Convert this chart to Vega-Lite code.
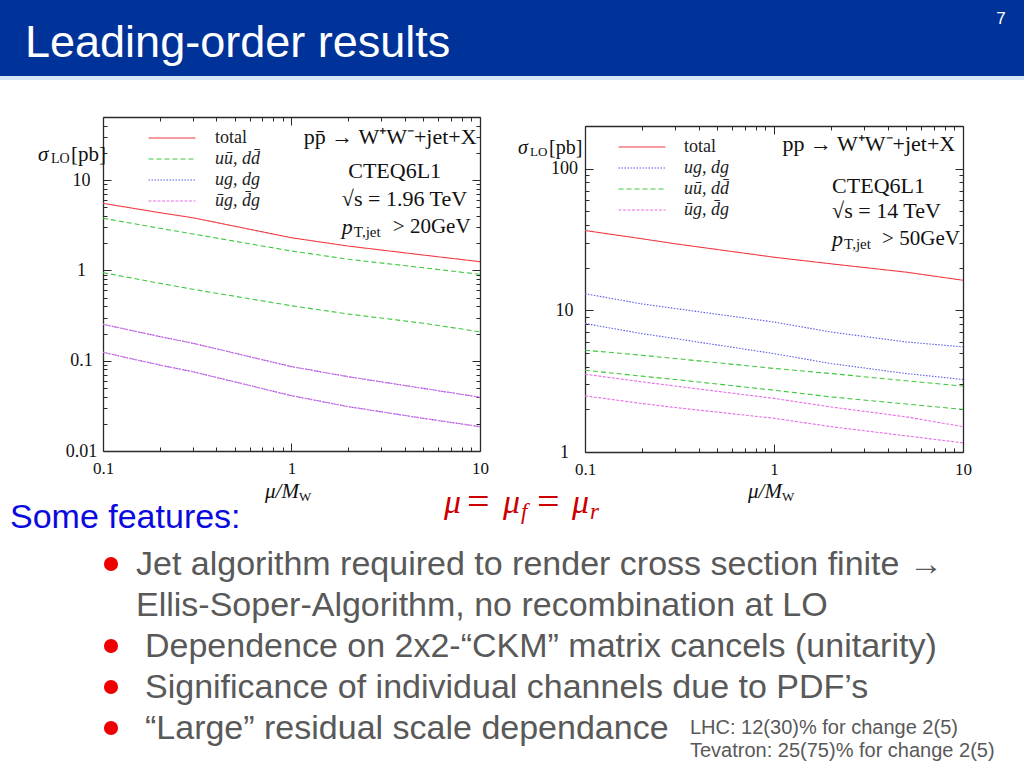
{
  "$schema": "https://vega.github.io/schema/vega-lite/v6.json",
  "width": 1024,
  "height": 768,
  "autosize": {"type": "none"},
  "padding": 0,
  "background": "white",
  "config": {"view": {"stroke": null}},
  "datasets": {
    "tev": [
      {"mu":0.1,"sigma":5.53,"ch":"total","line":"total"},{"mu":0.2,"sigma":4.36,"ch":"total","line":"total"},{"mu":0.3,"sigma":3.83,"ch":"total","line":"total"},{"mu":1,"sigma":2.30,"ch":"total","line":"total"},{"mu":2,"sigma":1.86,"ch":"total","line":"total"},{"mu":5,"sigma":1.48,"ch":"total","line":"total"},{"mu":10,"sigma":1.25,"ch":"total","line":"total"},
      {"mu":0.1,"sigma":3.78,"ch":"u\u016b, dd\u0304","line":"uu"},{"mu":0.2,"sigma":2.93,"ch":"u\u016b, dd\u0304","line":"uu"},{"mu":0.3,"sigma":2.53,"ch":"u\u016b, dd\u0304","line":"uu"},{"mu":1,"sigma":1.64,"ch":"u\u016b, dd\u0304","line":"uu"},{"mu":2,"sigma":1.33,"ch":"u\u016b, dd\u0304","line":"uu"},{"mu":5,"sigma":1.07,"ch":"u\u016b, dd\u0304","line":"uu"},{"mu":10,"sigma":0.906,"ch":"u\u016b, dd\u0304","line":"uu"},
      {"mu":0.1,"sigma":0.944,"ch":"u\u016b, dd\u0304","line":"dd"},{"mu":0.2,"sigma":0.72,"ch":"u\u016b, dd\u0304","line":"dd"},{"mu":0.3,"sigma":0.618,"ch":"u\u016b, dd\u0304","line":"dd"},{"mu":1,"sigma":0.406,"ch":"u\u016b, dd\u0304","line":"dd"},{"mu":2,"sigma":0.329,"ch":"u\u016b, dd\u0304","line":"dd"},{"mu":5,"sigma":0.26,"ch":"u\u016b, dd\u0304","line":"dd"},{"mu":10,"sigma":0.209,"ch":"u\u016b, dd\u0304","line":"dd"},
      {"mu":0.1,"sigma":0.253,"ch":"ug, dg","line":"ug"},{"mu":0.2,"sigma":0.185,"ch":"ug, dg","line":"ug"},{"mu":0.3,"sigma":0.156,"ch":"ug, dg","line":"ug"},{"mu":1,"sigma":0.086,"ch":"ug, dg","line":"ug"},{"mu":2,"sigma":0.0665,"ch":"ug, dg","line":"ug"},{"mu":5,"sigma":0.0494,"ch":"ug, dg","line":"ug"},{"mu":10,"sigma":0.0394,"ch":"ug, dg","line":"ug"},
      {"mu":0.1,"sigma":0.124,"ch":"ug, dg","line":"dg"},{"mu":0.2,"sigma":0.0895,"ch":"ug, dg","line":"dg"},{"mu":0.3,"sigma":0.0755,"ch":"ug, dg","line":"dg"},{"mu":1,"sigma":0.041,"ch":"ug, dg","line":"dg"},{"mu":2,"sigma":0.031,"ch":"ug, dg","line":"dg"},{"mu":5,"sigma":0.023,"ch":"ug, dg","line":"dg"},{"mu":10,"sigma":0.0186,"ch":"ug, dg","line":"dg"},
      {"mu":0.1,"sigma":0.253,"ch":"\u016bg, d\u0304g","line":"ubg"},{"mu":0.2,"sigma":0.185,"ch":"\u016bg, d\u0304g","line":"ubg"},{"mu":0.3,"sigma":0.156,"ch":"\u016bg, d\u0304g","line":"ubg"},{"mu":1,"sigma":0.086,"ch":"\u016bg, d\u0304g","line":"ubg"},{"mu":2,"sigma":0.0665,"ch":"\u016bg, d\u0304g","line":"ubg"},{"mu":5,"sigma":0.0494,"ch":"\u016bg, d\u0304g","line":"ubg"},{"mu":10,"sigma":0.0394,"ch":"\u016bg, d\u0304g","line":"ubg"},
      {"mu":0.1,"sigma":0.124,"ch":"\u016bg, d\u0304g","line":"dbg"},{"mu":0.2,"sigma":0.0895,"ch":"\u016bg, d\u0304g","line":"dbg"},{"mu":0.3,"sigma":0.0755,"ch":"\u016bg, d\u0304g","line":"dbg"},{"mu":1,"sigma":0.041,"ch":"\u016bg, d\u0304g","line":"dbg"},{"mu":2,"sigma":0.031,"ch":"\u016bg, d\u0304g","line":"dbg"},{"mu":5,"sigma":0.023,"ch":"\u016bg, d\u0304g","line":"dbg"},{"mu":10,"sigma":0.0186,"ch":"\u016bg, d\u0304g","line":"dbg"}
    ],
    "lhc": [
      {"mu":0.1,"sigma":36.6,"ch":"total","line":"total"},{"mu":0.2,"sigma":32.0,"ch":"total","line":"total"},{"mu":0.3,"sigma":29.5,"ch":"total","line":"total"},{"mu":1,"sigma":23.7,"ch":"total","line":"total"},{"mu":2,"sigma":21.3,"ch":"total","line":"total"},{"mu":5,"sigma":18.6,"ch":"total","line":"total"},{"mu":10,"sigma":16.3,"ch":"total","line":"total"},
      {"mu":0.1,"sigma":13.1,"ch":"ug, dg","line":"ug"},{"mu":0.2,"sigma":11.1,"ch":"ug, dg","line":"ug"},{"mu":0.3,"sigma":10.3,"ch":"ug, dg","line":"ug"},{"mu":1,"sigma":8.27,"ch":"ug, dg","line":"ug"},{"mu":2,"sigma":7.03,"ch":"ug, dg","line":"ug"},{"mu":5,"sigma":5.98,"ch":"ug, dg","line":"ug"},{"mu":10,"sigma":5.52,"ch":"ug, dg","line":"ug"},
      {"mu":0.1,"sigma":8.06,"ch":"ug, dg","line":"dg"},{"mu":0.2,"sigma":6.85,"ch":"ug, dg","line":"dg"},{"mu":0.3,"sigma":6.32,"ch":"ug, dg","line":"dg"},{"mu":1,"sigma":4.95,"ch":"ug, dg","line":"dg"},{"mu":2,"sigma":4.21,"ch":"ug, dg","line":"dg"},{"mu":5,"sigma":3.58,"ch":"ug, dg","line":"dg"},{"mu":10,"sigma":3.25,"ch":"ug, dg","line":"dg"},
      {"mu":0.1,"sigma":5.23,"ch":"u\u016b, dd\u0304","line":"uu"},{"mu":0.2,"sigma":4.82,"ch":"u\u016b, dd\u0304","line":"uu"},{"mu":0.3,"sigma":4.57,"ch":"u\u016b, dd\u0304","line":"uu"},{"mu":1,"sigma":3.89,"ch":"u\u016b, dd\u0304","line":"uu"},{"mu":2,"sigma":3.58,"ch":"u\u016b, dd\u0304","line":"uu"},{"mu":5,"sigma":3.18,"ch":"u\u016b, dd\u0304","line":"uu"},{"mu":10,"sigma":2.92,"ch":"u\u016b, dd\u0304","line":"uu"},
      {"mu":0.1,"sigma":3.78,"ch":"u\u016b, dd\u0304","line":"dd"},{"mu":0.2,"sigma":3.43,"ch":"u\u016b, dd\u0304","line":"dd"},{"mu":0.3,"sigma":3.25,"ch":"u\u016b, dd\u0304","line":"dd"},{"mu":1,"sigma":2.73,"ch":"u\u016b, dd\u0304","line":"dd"},{"mu":2,"sigma":2.45,"ch":"u\u016b, dd\u0304","line":"dd"},{"mu":5,"sigma":2.18,"ch":"u\u016b, dd\u0304","line":"dd"},{"mu":10,"sigma":2.0,"ch":"u\u016b, dd\u0304","line":"dd"},
      {"mu":0.1,"sigma":3.54,"ch":"\u016bg, d\u0304g","line":"ubg"},{"mu":0.2,"sigma":3.13,"ch":"\u016bg, d\u0304g","line":"ubg"},{"mu":0.3,"sigma":2.92,"ch":"\u016bg, d\u0304g","line":"ubg"},{"mu":1,"sigma":2.39,"ch":"\u016bg, d\u0304g","line":"ubg"},{"mu":2,"sigma":2.08,"ch":"\u016bg, d\u0304g","line":"ubg"},{"mu":5,"sigma":1.77,"ch":"\u016bg, d\u0304g","line":"ubg"},{"mu":10,"sigma":1.51,"ch":"\u016bg, d\u0304g","line":"ubg"},
      {"mu":0.1,"sigma":2.49,"ch":"\u016bg, d\u0304g","line":"dbg"},{"mu":0.2,"sigma":2.20,"ch":"\u016bg, d\u0304g","line":"dbg"},{"mu":0.3,"sigma":2.06,"ch":"\u016bg, d\u0304g","line":"dbg"},{"mu":1,"sigma":1.73,"ch":"\u016bg, d\u0304g","line":"dbg"},{"mu":2,"sigma":1.51,"ch":"\u016bg, d\u0304g","line":"dbg"},{"mu":5,"sigma":1.30,"ch":"\u016bg, d\u0304g","line":"dbg"},{"mu":10,"sigma":1.16,"ch":"\u016bg, d\u0304g","line":"dbg"}
    ]
  },
  "layer": [
    {
      "layer": [
        {"data": {"values": [{"part": "banner"}]}, "mark": {"type": "rect", "color": "#003399"},
         "encoding": {"x": {"datum": 0, "type": "quantitative", "scale": {"domain": [0, 1024], "nice": false, "zero": false}, "axis": null}, "x2": {"datum": 1024},
                      "y": {"datum": 0, "type": "quantitative", "scale": {"domain": [0, 768], "reverse": true, "nice": false, "zero": false}, "axis": null}, "y2": {"datum": 76}}},
        {"data": {"values": [{"part": "strip"}]}, "mark": {"type": "rect", "color": "#d2e6f7"},
         "encoding": {"x": {"datum": 0, "type": "quantitative", "axis": null}, "x2": {"datum": 1024}, "y": {"datum": 76, "type": "quantitative", "axis": null}, "y2": {"datum": 80}}},
        {"data": {"values": [{"t": "Leading-order results"}]}, "mark": {"type": "text", "align": "left", "baseline": "alphabetic", "font": "Liberation Sans", "fontSize": 45, "color": "white"},
         "encoding": {"text": {"field": "t"}, "x": {"datum": 25, "type": "quantitative", "axis": null}, "y": {"datum": 57, "type": "quantitative", "axis": null}}},
        {"data": {"values": [{"t": "7"}]}, "mark": {"type": "text", "align": "center", "baseline": "middle", "font": "Liberation Sans", "fontSize": 17, "color": "white"},
         "encoding": {"text": {"field": "t"}, "x": {"datum": 1001, "type": "quantitative", "axis": null}, "y": {"datum": 19, "type": "quantitative", "axis": null}}},
        {"data": {"values": [{"t": "Some features:"}]}, "mark": {"type": "text", "align": "left", "baseline": "middle", "font": "Liberation Sans", "fontSize": 34, "color": "#0a0ae0"},
         "encoding": {"text": {"field": "t"}, "x": {"datum": 10, "type": "quantitative", "axis": null}, "y": {"datum": 518, "type": "quantitative", "axis": null}}},
        {"data": {"values": [{"t": "μ"}]}, "mark": {"type": "text", "align": "left", "baseline": "middle", "font": "Liberation Serif", "fontSize": 34, "fontStyle": "italic", "color": "#cc0000"},
         "encoding": {"text": {"field": "t"}, "x": {"datum": 444, "type": "quantitative", "axis": null}, "y": {"datum": 503, "type": "quantitative", "axis": null}}},
        {"data": {"values": [{"t": "="}]}, "mark": {"type": "text", "align": "left", "baseline": "middle", "font": "Liberation Serif", "fontSize": 40, "color": "#cc0000"},
         "encoding": {"text": {"field": "t"}, "x": {"datum": 467, "type": "quantitative", "axis": null}, "y": {"datum": 503, "type": "quantitative", "axis": null}}},
        {"data": {"values": [{"t": "μ"}]}, "mark": {"type": "text", "align": "left", "baseline": "middle", "font": "Liberation Serif", "fontSize": 34, "fontStyle": "italic", "color": "#cc0000"},
         "encoding": {"text": {"field": "t"}, "x": {"datum": 503, "type": "quantitative", "axis": null}, "y": {"datum": 503, "type": "quantitative", "axis": null}}},
        {"data": {"values": [{"t": "f"}]}, "mark": {"type": "text", "align": "left", "baseline": "middle", "font": "Liberation Serif", "fontSize": 23, "fontStyle": "italic", "color": "#cc0000"},
         "encoding": {"text": {"field": "t"}, "x": {"datum": 521, "type": "quantitative", "axis": null}, "y": {"datum": 512, "type": "quantitative", "axis": null}}},
        {"data": {"values": [{"t": "="}]}, "mark": {"type": "text", "align": "left", "baseline": "middle", "font": "Liberation Serif", "fontSize": 40, "color": "#cc0000"},
         "encoding": {"text": {"field": "t"}, "x": {"datum": 537, "type": "quantitative", "axis": null}, "y": {"datum": 503, "type": "quantitative", "axis": null}}},
        {"data": {"values": [{"t": "μ"}]}, "mark": {"type": "text", "align": "left", "baseline": "middle", "font": "Liberation Serif", "fontSize": 34, "fontStyle": "italic", "color": "#cc0000"},
         "encoding": {"text": {"field": "t"}, "x": {"datum": 572, "type": "quantitative", "axis": null}, "y": {"datum": 503, "type": "quantitative", "axis": null}}},
        {"data": {"values": [{"t": "r"}]}, "mark": {"type": "text", "align": "left", "baseline": "middle", "font": "Liberation Serif", "fontSize": 23, "fontStyle": "italic", "color": "#cc0000"},
         "encoding": {"text": {"field": "t"}, "x": {"datum": 590, "type": "quantitative", "axis": null}, "y": {"datum": 512, "type": "quantitative", "axis": null}}},
        {"data": {"values": [{"b": 1}]}, "mark": {"type": "circle", "size": 200, "color": "#ee0000", "opacity": 1},
         "encoding": {"x": {"datum": 111, "type": "quantitative", "axis": null}, "y": {"datum": 564, "type": "quantitative", "axis": null}}},
        {"data": {"values": [{"b": 3}]}, "mark": {"type": "circle", "size": 200, "color": "#ee0000", "opacity": 1},
         "encoding": {"x": {"datum": 111, "type": "quantitative", "axis": null}, "y": {"datum": 646, "type": "quantitative", "axis": null}}},
        {"data": {"values": [{"b": 4}]}, "mark": {"type": "circle", "size": 200, "color": "#ee0000", "opacity": 1},
         "encoding": {"x": {"datum": 111, "type": "quantitative", "axis": null}, "y": {"datum": 687, "type": "quantitative", "axis": null}}},
        {"data": {"values": [{"b": 5}]}, "mark": {"type": "circle", "size": 200, "color": "#ee0000", "opacity": 1},
         "encoding": {"x": {"datum": 111, "type": "quantitative", "axis": null}, "y": {"datum": 728, "type": "quantitative", "axis": null}}},
        {"data": {"values": [{"t": "Jet algorithm required to render cross section finite →"}]}, "mark": {"type": "text", "align": "left", "baseline": "middle", "font": "Liberation Sans", "fontSize": 34, "color": "#595959"},
         "encoding": {"text": {"field": "t"}, "x": {"datum": 136, "type": "quantitative", "axis": null}, "y": {"datum": 565, "type": "quantitative", "axis": null}}},
        {"data": {"values": [{"t": "Ellis-Soper-Algorithm, no recombination at LO"}]}, "mark": {"type": "text", "align": "left", "baseline": "middle", "font": "Liberation Sans", "fontSize": 34, "color": "#595959"},
         "encoding": {"text": {"field": "t"}, "x": {"datum": 136, "type": "quantitative", "axis": null}, "y": {"datum": 606, "type": "quantitative", "axis": null}}},
        {"data": {"values": [{"t": "Dependence on 2x2-“CKM” matrix cancels (unitarity)"}]}, "mark": {"type": "text", "align": "left", "baseline": "middle", "font": "Liberation Sans", "fontSize": 34, "color": "#595959"},
         "encoding": {"text": {"field": "t"}, "x": {"datum": 145, "type": "quantitative", "axis": null}, "y": {"datum": 647, "type": "quantitative", "axis": null}}},
        {"data": {"values": [{"t": "Significance of individual channels due to PDF’s"}]}, "mark": {"type": "text", "align": "left", "baseline": "middle", "font": "Liberation Sans", "fontSize": 34, "color": "#595959"},
         "encoding": {"text": {"field": "t"}, "x": {"datum": 145, "type": "quantitative", "axis": null}, "y": {"datum": 688, "type": "quantitative", "axis": null}}},
        {"data": {"values": [{"t": "“Large” residual scale dependance"}]}, "mark": {"type": "text", "align": "left", "baseline": "middle", "font": "Liberation Sans", "fontSize": 34, "color": "#595959"},
         "encoding": {"text": {"field": "t"}, "x": {"datum": 145, "type": "quantitative", "axis": null}, "y": {"datum": 729, "type": "quantitative", "axis": null}}},
        {"data": {"values": [{"t": "LHC: 12(30)% for change 2(5)"}]}, "mark": {"type": "text", "align": "left", "baseline": "middle", "font": "Liberation Sans", "fontSize": 20, "color": "#595959"},
         "encoding": {"text": {"field": "t"}, "x": {"datum": 690, "type": "quantitative", "axis": null}, "y": {"datum": 728, "type": "quantitative", "axis": null}}},
        {"data": {"values": [{"t": "Tevatron: 25(75)% for change 2(5)"}]}, "mark": {"type": "text", "align": "left", "baseline": "middle", "font": "Liberation Sans", "fontSize": 20, "color": "#595959"},
         "encoding": {"text": {"field": "t"}, "x": {"datum": 690, "type": "quantitative", "axis": null}, "y": {"datum": 751, "type": "quantitative", "axis": null}}}
      ]
    },
    {
      "layer": [
        {"data": {"name": "tev"}, "transform": [{"filter": "datum.line === 'total'"}],
         "mark": {"type": "line", "strokeWidth": 1.1},
         "encoding": {
           "x": {"field": "mu", "type": "quantitative", "scale": {"type": "log", "domain": [0.1, 10], "range": [103, 480], "nice": false},
                 "axis": {"orient": "bottom", "offset": -317, "values": [0.1, 1, 10], "labelExpr": "datum.value + ''", "ticks": false, "domain": true, "domainColor": "#2a2a2a", "domainWidth": 1.3, "grid": false, "labelFont": "Liberation Serif", "labelFontSize": 17, "labelColor": "#111", "labelPadding": 9, "labelFlush": false, "labelOverlap": false, "title": null}},
           "y": {"field": "sigma", "type": "quantitative", "scale": {"type": "log", "domain": [0.01, 50], "range": [451, 117], "nice": false},
                 "axis": {"orient": "left", "offset": -103, "values": [0.01, 0.1, 1, 10], "labelExpr": "datum.value + ''", "ticks": false, "domain": true, "domainColor": "#2a2a2a", "domainWidth": 1.3, "grid": false, "labelFont": "Liberation Serif", "labelFontSize": 18, "labelColor": "#111", "labelAlign": "center", "labelBaseline": "middle", "labelPadding": 22, "labelFlush": false, "labelOverlap": false, "title": null}},
           "color": {"field": "ch", "type": "nominal", "scale": {"domain": ["total", "u\u016b, dd\u0304", "ug, dg", "\u016bg, d\u0304g"], "range": ["#f03c46", "#3cc83c", "#5a5ae6", "#e66ee6"]},
                     "legend": {"title": null, "orient": "none", "legendX": 161, "legendY": 127, "direction": "vertical", "symbolType": "M-2.35,0H2.35", "symbolSize": 400, "symbolStrokeWidth": 1.2, "labelFont": "Liberation Serif", "labelFontSize": 18, "labelColor": "#222", "labelOffset": 32, "rowPadding": 1, "padding": 0, "labelLimit": 200, "encode": {"labels": {"update": {"fontStyle": {"signal": "datum.value === 'total' ? 'normal' : 'italic'"}}}}}},
           "strokeDash": {"field": "ch", "type": "nominal", "scale": {"domain": ["total", "u\u016b, dd\u0304", "ug, dg", "\u016bg, d\u0304g"], "range": [[1, 0], [5, 3], [1.5, 1.5], [3, 1.5]]},
                     "legend": {"title": null, "orient": "none", "legendX": 161, "legendY": 127, "direction": "vertical", "symbolType": "M-2.35,0H2.35", "symbolSize": 400, "symbolStrokeWidth": 1.2, "labelFont": "Liberation Serif", "labelFontSize": 18, "labelColor": "#222", "labelOffset": 32, "rowPadding": 1, "padding": 0, "labelLimit": 200, "encode": {"labels": {"update": {"fontStyle": {"signal": "datum.value === 'total' ? 'normal' : 'italic'"}}}}}},
           "detail": {"field": "line", "type": "nominal"}
         }},
        {"data": {"name": "tev"}, "transform": [{"filter": "datum.line === 'uu' || datum.line === 'dd' || datum.line === 'ug' || datum.line === 'dg'"}],
         "mark": {"type": "line", "strokeWidth": 1.1},
         "encoding": {
           "x": {"field": "mu", "type": "quantitative", "axis": {"orient": "top", "offset": -117, "values": [0.1,0.2,0.3,0.4,0.5,0.6,0.7,0.8,0.9,1,2,3,4,5,6,7,8,9,10], "labels": false, "domain": true, "domainColor": "#2a2a2a", "domainWidth": 1.3, "grid": false, "title": null, "tickColor": "#2a2a2a", "tickWidth": 1, "tickSize": {"condition": {"test": "indexof([0.01,0.1,1,10,100], datum.value) >= 0", "value": -8}, "value": -4}}},
           "y": {"field": "sigma", "type": "quantitative", "axis": {"orient": "right", "offset": -544, "values": [0.01,0.02,0.03,0.04,0.05,0.06,0.07,0.08,0.09,0.1,0.2,0.3,0.4,0.5,0.6,0.7,0.8,0.9,1,2,3,4,5,6,7,8,9,10,20,30,40,50], "labels": false, "domain": true, "domainColor": "#2a2a2a", "domainWidth": 1.3, "grid": false, "title": null, "tickColor": "#2a2a2a", "tickWidth": 1, "tickSize": {"condition": {"test": "indexof([0.01,0.1,1,10,100], datum.value) >= 0", "value": -8}, "value": -4}}},
           "color": {"field": "ch", "type": "nominal"},
           "strokeDash": {"field": "ch", "type": "nominal"},
           "detail": {"field": "line", "type": "nominal"}
         }},
        {"data": {"name": "tev"}, "transform": [{"filter": "datum.line === 'ubg' || datum.line === 'dbg'"}],
         "mark": {"type": "line", "strokeWidth": 1.1},
         "encoding": {
           "x": {"field": "mu", "type": "quantitative", "axis": {"orient": "bottom", "offset": -317, "values": [0.1,0.2,0.3,0.4,0.5,0.6,0.7,0.8,0.9,1,2,3,4,5,6,7,8,9,10], "labels": false, "domain": false, "grid": false, "title": null, "tickColor": "#2a2a2a", "tickWidth": 1, "tickSize": {"condition": {"test": "indexof([0.01,0.1,1,10,100], datum.value) >= 0", "value": -8}, "value": -4}}},
           "y": {"field": "sigma", "type": "quantitative", "axis": {"orient": "left", "offset": -103, "values": [0.01,0.02,0.03,0.04,0.05,0.06,0.07,0.08,0.09,0.1,0.2,0.3,0.4,0.5,0.6,0.7,0.8,0.9,1,2,3,4,5,6,7,8,9,10,20,30,40,50], "labels": false, "domain": false, "grid": false, "title": null, "tickColor": "#2a2a2a", "tickWidth": 1, "tickSize": {"condition": {"test": "indexof([0.01,0.1,1,10,100], datum.value) >= 0", "value": -8}, "value": -4}}},
           "color": {"field": "ch", "type": "nominal"},
           "strokeDash": {"field": "ch", "type": "nominal"},
           "detail": {"field": "line", "type": "nominal"}
         }},
        {"data": {"values": [{"t": "σ"}]}, "mark": {"type": "text", "align": "left", "baseline": "middle", "font": "Liberation Serif", "fontSize": 21, "fontStyle": "italic", "color": "#111"},
         "encoding": {"text": {"field": "t"}, "x": {"datum": 0.0452, "type": "quantitative", "axis": null}, "y": {"datum": 19, "type": "quantitative", "axis": null}}},
        {"data": {"values": [{"t": "LO"}]}, "mark": {"type": "text", "align": "left", "baseline": "middle", "font": "Liberation Serif", "fontSize": 14, "dx": 13, "dy": 4, "color": "#111"},
         "encoding": {"text": {"field": "t"}, "x": {"datum": 0.0452, "type": "quantitative", "axis": null}, "y": {"datum": 19, "type": "quantitative", "axis": null}}},
        {"data": {"values": [{"t": "[pb]"}]}, "mark": {"type": "text", "align": "left", "baseline": "middle", "font": "Liberation Serif", "fontSize": 21, "dx": 33, "color": "#111"},
         "encoding": {"text": {"field": "t"}, "x": {"datum": 0.0452, "type": "quantitative", "axis": null}, "y": {"datum": 19, "type": "quantitative", "axis": null}}},
        {"data": {"values": [{"t": "μ/M"}]}, "mark": {"type": "text", "align": "left", "baseline": "middle", "font": "Liberation Serif", "fontSize": 21, "fontStyle": "italic", "color": "#111"},
         "encoding": {"text": {"field": "t"}, "x": {"datum": 0.7236, "type": "quantitative", "axis": null}, "y": {"datum": 0.00352, "type": "quantitative", "axis": null}}},
        {"data": {"values": [{"t": "W"}]}, "mark": {"type": "text", "align": "left", "baseline": "middle", "font": "Liberation Serif", "fontSize": 13, "dx": 34, "dy": 5, "color": "#111"},
         "encoding": {"text": {"field": "t"}, "x": {"datum": 0.7236, "type": "quantitative", "axis": null}, "y": {"datum": 0.00352, "type": "quantitative", "axis": null}}},
        {"data": {"values": [{"t": "pp\u0304 → W⁺W⁻+jet+X"}]}, "mark": {"type": "text", "align": "right", "baseline": "middle", "font": "Liberation Serif", "fontSize": 22, "color": "#111"},
         "encoding": {"text": {"field": "t"}, "x": {"datum": 9.6, "type": "quantitative", "axis": null}, "y": {"datum": 30, "type": "quantitative", "axis": null}}},
        {"data": {"values": [{"t": "CTEQ6L1"}]}, "mark": {"type": "text", "align": "left", "baseline": "middle", "font": "Liberation Serif", "fontSize": 22, "color": "#111"},
         "encoding": {"text": {"field": "t"}, "x": {"datum": 2.0, "type": "quantitative", "axis": null}, "y": {"datum": 12.6, "type": "quantitative", "axis": null}}},
        {"data": {"values": [{"t": "√s = 1.96 TeV"}]}, "mark": {"type": "text", "align": "left", "baseline": "middle", "font": "Liberation Serif", "fontSize": 22, "color": "#111"},
         "encoding": {"text": {"field": "t"}, "x": {"datum": 1.85, "type": "quantitative", "axis": null}, "y": {"datum": 6.18, "type": "quantitative", "axis": null}}},
        {"data": {"values": [{"t": "p"}]}, "mark": {"type": "text", "align": "left", "baseline": "middle", "font": "Liberation Serif", "fontSize": 22, "fontStyle": "italic", "color": "#111"},
         "encoding": {"text": {"field": "t"}, "x": {"datum": 1.85, "type": "quantitative", "axis": null}, "y": {"datum": 3.03, "type": "quantitative", "axis": null}}},
        {"data": {"values": [{"t": "T,jet"}]}, "mark": {"type": "text", "align": "left", "baseline": "middle", "font": "Liberation Serif", "fontSize": 15, "dx": 12, "dy": 5, "color": "#111"},
         "encoding": {"text": {"field": "t"}, "x": {"datum": 1.85, "type": "quantitative", "axis": null}, "y": {"datum": 3.03, "type": "quantitative", "axis": null}}},
        {"data": {"values": [{"t": "> 20GeV"}]}, "mark": {"type": "text", "align": "left", "baseline": "middle", "font": "Liberation Serif", "fontSize": 21, "dx": 51, "color": "#111"},
         "encoding": {"text": {"field": "t"}, "x": {"datum": 1.85, "type": "quantitative", "axis": null}, "y": {"datum": 3.03, "type": "quantitative", "axis": null}}}
      ],
      "resolve": {"axis": {"x": "independent", "y": "independent"}}
    },
    {
      "layer": [
        {"data": {"name": "lhc"}, "transform": [{"filter": "datum.line === 'total'"}],
         "mark": {"type": "line", "strokeWidth": 1.1},
         "encoding": {
           "x": {"field": "mu", "type": "quantitative", "scale": {"type": "log", "domain": [0.1, 10], "range": [585, 963], "nice": false},
                 "axis": {"orient": "bottom", "offset": -316, "values": [0.1, 1, 10], "labelExpr": "datum.value + ''", "ticks": false, "domain": true, "domainColor": "#2a2a2a", "domainWidth": 1.3, "grid": false, "labelFont": "Liberation Serif", "labelFontSize": 17, "labelColor": "#111", "labelPadding": 9, "labelFlush": false, "labelOverlap": false, "title": null}},
           "y": {"field": "sigma", "type": "quantitative", "scale": {"type": "log", "domain": [1, 200], "range": [452, 126], "nice": false},
                 "axis": {"orient": "left", "offset": -585, "values": [1, 10, 100], "labelExpr": "datum.value + ''", "ticks": false, "domain": true, "domainColor": "#2a2a2a", "domainWidth": 1.3, "grid": false, "labelFont": "Liberation Serif", "labelFontSize": 18, "labelColor": "#111", "labelAlign": "center", "labelBaseline": "middle", "labelPadding": 21, "labelFlush": false, "labelOverlap": false, "title": null}},
           "color": {"field": "ch", "type": "nominal", "scale": {"domain": ["total", "ug, dg", "u\u016b, dd\u0304", "\u016bg, d\u0304g"], "range": ["#f03c46", "#5a5ae6", "#3cc83c", "#e66ee6"]},
                     "legend": {"title": null, "orient": "none", "legendX": 631, "legendY": 136, "direction": "vertical", "symbolType": "M-2.35,0H2.35", "symbolSize": 400, "symbolStrokeWidth": 1.2, "labelFont": "Liberation Serif", "labelFontSize": 18, "labelColor": "#222", "labelOffset": 31, "rowPadding": 1, "padding": 0, "labelLimit": 200, "encode": {"labels": {"update": {"fontStyle": {"signal": "datum.value === 'total' ? 'normal' : 'italic'"}}}}}},
           "strokeDash": {"field": "ch", "type": "nominal", "scale": {"domain": ["total", "ug, dg", "u\u016b, dd\u0304", "\u016bg, d\u0304g"], "range": [[1, 0], [1.5, 1.5], [5, 3], [3, 1.5]]},
                     "legend": {"title": null, "orient": "none", "legendX": 631, "legendY": 136, "direction": "vertical", "symbolType": "M-2.35,0H2.35", "symbolSize": 400, "symbolStrokeWidth": 1.2, "labelFont": "Liberation Serif", "labelFontSize": 18, "labelColor": "#222", "labelOffset": 31, "rowPadding": 1, "padding": 0, "labelLimit": 200, "encode": {"labels": {"update": {"fontStyle": {"signal": "datum.value === 'total' ? 'normal' : 'italic'"}}}}}},
           "detail": {"field": "line", "type": "nominal"}
         }},
        {"data": {"name": "lhc"}, "transform": [{"filter": "datum.line === 'uu' || datum.line === 'dd' || datum.line === 'ug' || datum.line === 'dg'"}],
         "mark": {"type": "line", "strokeWidth": 1.1},
         "encoding": {
           "x": {"field": "mu", "type": "quantitative", "axis": {"orient": "top", "offset": -126, "values": [0.1,0.2,0.3,0.4,0.5,0.6,0.7,0.8,0.9,1,2,3,4,5,6,7,8,9,10], "labels": false, "domain": true, "domainColor": "#2a2a2a", "domainWidth": 1.3, "grid": false, "title": null, "tickColor": "#2a2a2a", "tickWidth": 1, "tickSize": {"condition": {"test": "indexof([0.01,0.1,1,10,100], datum.value) >= 0", "value": -8}, "value": -4}}},
           "y": {"field": "sigma", "type": "quantitative", "axis": {"orient": "right", "offset": -61, "values": [1,2,3,4,5,6,7,8,9,10,20,30,40,50,60,70,80,90,100,200], "labels": false, "domain": true, "domainColor": "#2a2a2a", "domainWidth": 1.3, "grid": false, "title": null, "tickColor": "#2a2a2a", "tickWidth": 1, "tickSize": {"condition": {"test": "indexof([0.01,0.1,1,10,100], datum.value) >= 0", "value": -8}, "value": -4}}},
           "color": {"field": "ch", "type": "nominal"},
           "strokeDash": {"field": "ch", "type": "nominal"},
           "detail": {"field": "line", "type": "nominal"}
         }},
        {"data": {"name": "lhc"}, "transform": [{"filter": "datum.line === 'ubg' || datum.line === 'dbg'"}],
         "mark": {"type": "line", "strokeWidth": 1.1},
         "encoding": {
           "x": {"field": "mu", "type": "quantitative", "axis": {"orient": "bottom", "offset": -316, "values": [0.1,0.2,0.3,0.4,0.5,0.6,0.7,0.8,0.9,1,2,3,4,5,6,7,8,9,10], "labels": false, "domain": false, "grid": false, "title": null, "tickColor": "#2a2a2a", "tickWidth": 1, "tickSize": {"condition": {"test": "indexof([0.01,0.1,1,10,100], datum.value) >= 0", "value": -8}, "value": -4}}},
           "y": {"field": "sigma", "type": "quantitative", "axis": {"orient": "left", "offset": -585, "values": [1,2,3,4,5,6,7,8,9,10,20,30,40,50,60,70,80,90,100,200], "labels": false, "domain": false, "grid": false, "title": null, "tickColor": "#2a2a2a", "tickWidth": 1, "tickSize": {"condition": {"test": "indexof([0.01,0.1,1,10,100], datum.value) >= 0", "value": -8}, "value": -4}}},
           "color": {"field": "ch", "type": "nominal"},
           "strokeDash": {"field": "ch", "type": "nominal"},
           "detail": {"field": "line", "type": "nominal"}
         }},
        {"data": {"values": [{"t": "σ"}]}, "mark": {"type": "text", "align": "left", "baseline": "middle", "font": "Liberation Serif", "fontSize": 20, "fontStyle": "italic", "color": "#111"},
         "encoding": {"text": {"field": "t"}, "x": {"datum": 0.0442, "type": "quantitative", "axis": null}, "y": {"datum": 141, "type": "quantitative", "axis": null}}},
        {"data": {"values": [{"t": "LO"}]}, "mark": {"type": "text", "align": "left", "baseline": "middle", "font": "Liberation Serif", "fontSize": 13, "dx": 12, "dy": 4, "color": "#111"},
         "encoding": {"text": {"field": "t"}, "x": {"datum": 0.0442, "type": "quantitative", "axis": null}, "y": {"datum": 141, "type": "quantitative", "axis": null}}},
        {"data": {"values": [{"t": "[pb]"}]}, "mark": {"type": "text", "align": "left", "baseline": "middle", "font": "Liberation Serif", "fontSize": 20, "dx": 31, "color": "#111"},
         "encoding": {"text": {"field": "t"}, "x": {"datum": 0.0442, "type": "quantitative", "axis": null}, "y": {"datum": 141, "type": "quantitative", "axis": null}}},
        {"data": {"values": [{"t": "μ/M"}]}, "mark": {"type": "text", "align": "left", "baseline": "middle", "font": "Liberation Serif", "fontSize": 21, "fontStyle": "italic", "color": "#111"},
         "encoding": {"text": {"field": "t"}, "x": {"datum": 0.7286, "type": "quantitative", "axis": null}, "y": {"datum": 0.523, "type": "quantitative", "axis": null}}},
        {"data": {"values": [{"t": "W"}]}, "mark": {"type": "text", "align": "left", "baseline": "middle", "font": "Liberation Serif", "fontSize": 13, "dx": 34, "dy": 5, "color": "#111"},
         "encoding": {"text": {"field": "t"}, "x": {"datum": 0.7286, "type": "quantitative", "axis": null}, "y": {"datum": 0.523, "type": "quantitative", "axis": null}}},
        {"data": {"values": [{"t": "pp → W⁺W⁻+jet+X"}]}, "mark": {"type": "text", "align": "right", "baseline": "middle", "font": "Liberation Serif", "fontSize": 22, "color": "#111"},
         "encoding": {"text": {"field": "t"}, "x": {"datum": 9.1, "type": "quantitative", "axis": null}, "y": {"datum": 150, "type": "quantitative", "axis": null}}},
        {"data": {"values": [{"t": "CTEQ6L1"}]}, "mark": {"type": "text", "align": "left", "baseline": "middle", "font": "Liberation Serif", "fontSize": 22, "color": "#111"},
         "encoding": {"text": {"field": "t"}, "x": {"datum": 2.03, "type": "quantitative", "axis": null}, "y": {"datum": 75.9, "type": "quantitative", "axis": null}}},
        {"data": {"values": [{"t": "√s = 14 TeV"}]}, "mark": {"type": "text", "align": "left", "baseline": "middle", "font": "Liberation Serif", "fontSize": 22, "color": "#111"},
         "encoding": {"text": {"field": "t"}, "x": {"datum": 2.03, "type": "quantitative", "axis": null}, "y": {"datum": 50.6, "type": "quantitative", "axis": null}}},
        {"data": {"values": [{"t": "p"}]}, "mark": {"type": "text", "align": "left", "baseline": "middle", "font": "Liberation Serif", "fontSize": 22, "fontStyle": "italic", "color": "#111"},
         "encoding": {"text": {"field": "t"}, "x": {"datum": 2.03, "type": "quantitative", "axis": null}, "y": {"datum": 32.1, "type": "quantitative", "axis": null}}},
        {"data": {"values": [{"t": "T,jet"}]}, "mark": {"type": "text", "align": "left", "baseline": "middle", "font": "Liberation Serif", "fontSize": 15, "dx": 12, "dy": 5, "color": "#111"},
         "encoding": {"text": {"field": "t"}, "x": {"datum": 2.03, "type": "quantitative", "axis": null}, "y": {"datum": 32.1, "type": "quantitative", "axis": null}}},
        {"data": {"values": [{"t": "> 50GeV"}]}, "mark": {"type": "text", "align": "left", "baseline": "middle", "font": "Liberation Serif", "fontSize": 21, "dx": 50, "color": "#111"},
         "encoding": {"text": {"field": "t"}, "x": {"datum": 2.03, "type": "quantitative", "axis": null}, "y": {"datum": 32.1, "type": "quantitative", "axis": null}}}
      ],
      "resolve": {"axis": {"x": "independent", "y": "independent"}}
    }
  ],
  "resolve": {
    "scale": {"x": "independent", "y": "independent", "color": "independent", "strokeDash": "independent"},
    "axis": {"x": "independent", "y": "independent"},
    "legend": {"color": "independent", "strokeDash": "independent"}
  }
}
